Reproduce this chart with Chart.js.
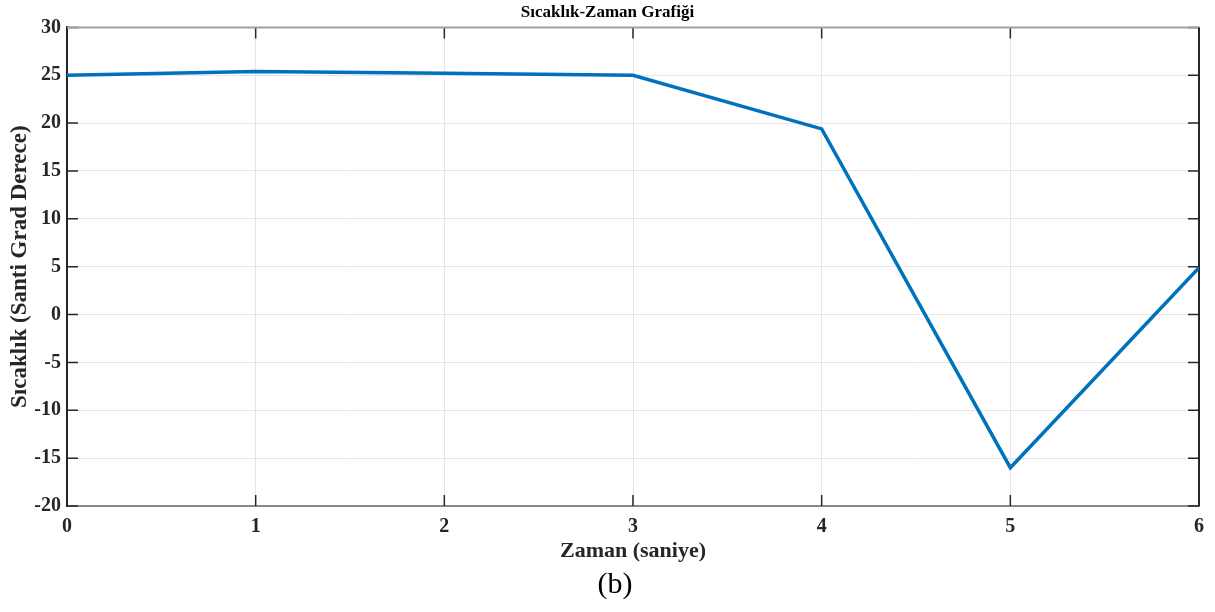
<!DOCTYPE html>
<html>
<head>
<meta charset="utf-8">
<script src="https://cdn.jsdelivr.net/npm/chart.js@4/dist/chart.umd.min.js"></script>
<style>
  html, body { margin: 0; padding: 0; background: #fff; }
  #wrap { width: 1215px; height: 612px; }
</style>
</head>
<body>
<div id="wrap"><canvas id="grafica" width="1215" height="612"></canvas></div>
<script>
// datos
const tiempo = [0, 1, 2, 3, 4, 5, 6];
const temperatura = [25, 25.4, 25.2, 25, 19.4, -16, 4.9];
const ticksX = [0, 1, 2, 3, 4, 5, 6];
const ticksY = [-20, -15, -10, -5, 0, 5, 10, 15, 20, 25, 30];

const fuente = "'Liberation Serif', 'Times New Roman', serif";
const oscuro = "#262626";

// marcas hacia adentro en los cuatro lados + borde de arriba y derecha
const marcasAdentro = {
  id: "marcasAdentro",
  beforeDatasetsDraw(chart) {
    const ctx = chart.ctx;
    const a = chart.chartArea;
    const sx = chart.scales.x, sy = chart.scales.y;
    const largo = 11;
    ctx.save();
    ctx.lineWidth = 1.5;
    ctx.strokeStyle = oscuro;
    ctx.beginPath();
    sx.ticks.forEach(t => {
      const px = sx.getPixelForValue(t.value);
      ctx.moveTo(px, a.bottom); ctx.lineTo(px, a.bottom - largo);
      ctx.moveTo(px, a.top); ctx.lineTo(px, a.top + largo);
    });
    sy.ticks.forEach(t => {
      const py = sy.getPixelForValue(t.value);
      ctx.moveTo(a.left, py); ctx.lineTo(a.left + largo, py);
      ctx.moveTo(a.right, py); ctx.lineTo(a.right - largo, py);
    });
    ctx.stroke();
    // borde superior (gris) y derecho (oscuro)
    ctx.lineWidth = 2;
    ctx.strokeStyle = "#a0a0a0";
    ctx.beginPath();
    ctx.moveTo(a.left, a.top); ctx.lineTo(a.right, a.top);
    ctx.stroke();
    ctx.strokeStyle = oscuro;
    ctx.beginPath();
    ctx.moveTo(a.right, a.top); ctx.lineTo(a.right, a.bottom);
    ctx.stroke();
    ctx.restore();
  }
};

const puntos = tiempo.map((t, i) => ({ x: t, y: temperatura[i] }));

new Chart(document.getElementById("grafica"), {
  type: "line",
  data: {
    datasets: [{
      label: "Sıcaklık",
      data: puntos,
      borderColor: "#0072BD",
      borderWidth: 3.5,
      pointRadius: 0,
      tension: 0,
      fill: false
    }]
  },
  options: {
    responsive: false,
    animation: false,
    layout: { padding: { left: 0, right: 0, top: 0, bottom: 12 } },
    plugins: {
      legend: { display: false },
      tooltip: { enabled: false },
      title: {
        display: true,
        text: "Sıcaklık-Zaman Grafiği",
        color: "#000",
        font: { family: fuente, size: 17, weight: "bold" },
        padding: { top: 2, bottom: 5 }
      },
      subtitle: {
        display: true,
        position: "bottom",
        text: "  (b)",
        color: "#000",
        font: { family: fuente, size: 30, weight: "normal", lineHeight: 1 },
        padding: { top: 8, bottom: 0 }
      }
    },
    scales: {
      x: {
        type: "linear",
        min: 0,
        max: 6,
        afterBuildTicks: s => { s.ticks = ticksX.map(v => ({ value: v })); },
        ticks: {
          color: oscuro,
          font: { family: fuente, size: 20, weight: "bold", lineHeight: 1 },
          padding: 11,
          maxRotation: 0
        },
        grid: { color: "#e6e6e6", lineWidth: 1, drawTicks: false },
        border: { color: "#888", width: 2 },
        title: {
          display: true,
          text: "Zaman (saniye)",
          color: oscuro,
          font: { family: fuente, size: 22, weight: "bold", lineHeight: 1 },
          padding: { top: -8, bottom: 0 }
        }
      },
      y: {
        type: "linear",
        min: -20,
        max: 30,
        afterBuildTicks: s => { s.ticks = ticksY.map(v => ({ value: v })); },
        afterFit: s => { s.width = 67; },
        ticks: {
          color: oscuro,
          font: { family: fuente, size: 20, weight: "bold" },
          padding: 6
        },
        grid: { color: "#e6e6e6", lineWidth: 1, drawTicks: false },
        border: { color: oscuro, width: 2 },
        title: {
          display: true,
          text: "Sıcaklık (Santi Grad Derece)",
          color: oscuro,
          font: { family: fuente, size: 23, weight: "bold" },
          padding: { top: 6, bottom: 0 }
        }
      },
      // eje vacio a la derecha solo para dejar el margen y centrar el titulo
      y2: {
        position: "right",
        min: -20,
        max: 30,
        afterFit: s => { s.width = 16; },
        ticks: { display: false },
        grid: { display: false, drawTicks: false },
        border: { display: false }
      }
    }
  },
  plugins: [marcasAdentro]
});
</script>
</body>
</html>
